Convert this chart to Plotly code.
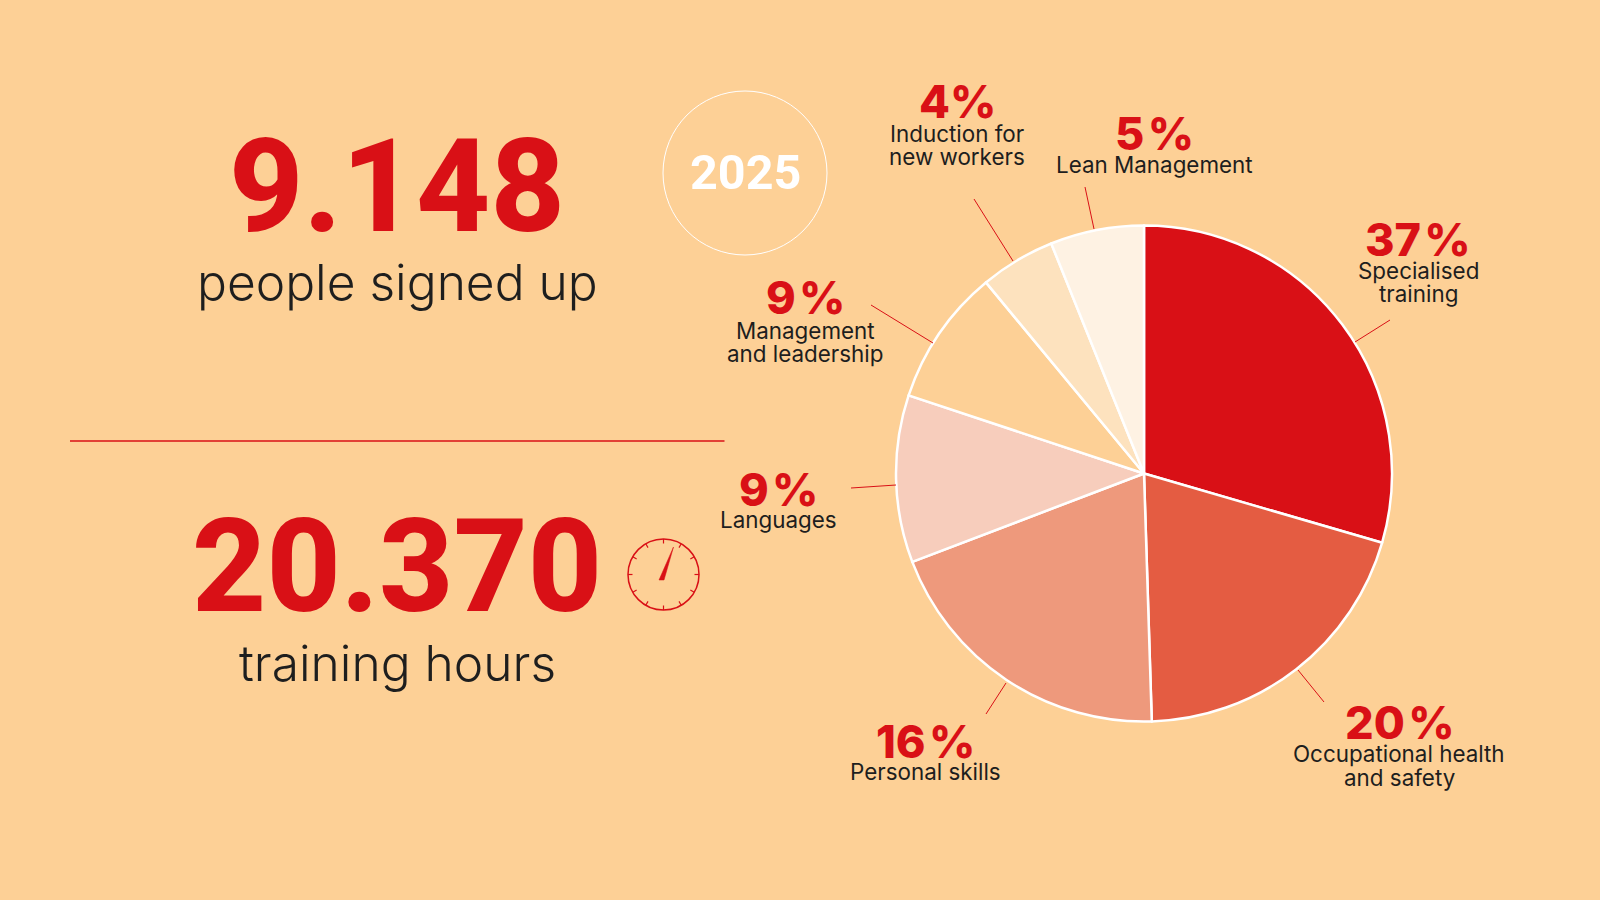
import math
import plotly.graph_objects as go

W, H = 1600, 900
BG = "#FDD096"
RED = "#D91016"
DARK = "#1E1E1E"
FONT = "Inter"
NUM_FONT = "Roboto"

# slice sizes as drawn (the printed percentages do not match the wedges)
slice_names = ["Specialised training", "Occupational health and safety", "Personal skills",
               "Languages", "Management and leadership", "Induction for new workers",
               "Lean Management"]
slice_values = [29.5, 20.0, 19.7, 10.9, 8.9, 4.9, 6.1]
slice_colors = ["#D91016", "#E45C42", "#EE997C", "#F7CDBC", "#FDD096", "#FDE2BE", "#FEF2E3"]

percent_labels = ["37\u200a%", "20\u200a%", "16\u200a%", "9\u200a%", "9\u200a%", "4%", "5\u200a%"]
label_lines = [["Specialised", "training"], ["Occupational health", "and safety"], ["Personal skills"],
               ["Languages"], ["Management", "and leadership"], ["Induction for", "new workers"],
               ["Lean Management"]]

# pixel positions of the label blocks: x, y of the percent, y of each text line
label_x = [1418, 1399, 925, 778, 805, 957, 1154]
percent_y = [239, 722, 741, 489, 297, 101, 134]
line_y = [[270, 293], [753, 777], [771], [519], [330, 353], [133, 156], [164]]

# leader lines x0, y0, x1, y1
leaders = [(1355, 342, 1390, 320), (1298, 670, 1324, 702), (986, 714, 1006, 683),
           (851, 488, 896, 485), (871, 305, 933, 343), (974, 199, 1013, 261),
           (1085, 187, 1094, 229)]

big_stats = [("9.148", "people signed up", 397, 186, 282), ("20.370", "training hours", 397, 566, 663)]

PIE_CX, PIE_CY, PIE_R = 1144, 473.5, 248
CLOCK_CX, CLOCK_CY, CLOCK_R = 663.5, 574.5, 35.5


def px(x):
    return x / W


def py(y):
    return 1 - y / H


def text(s, x, y, size, color=DARK, weight=400, family=FONT):
    fig.add_annotation(text=s, x=px(x), y=py(y), xref="paper", yref="paper", showarrow=False,
                       xanchor="center", yanchor="middle",
                       font=dict(family=family, size=size, color=color, weight=weight))


def line(x0, y0, x1, y1, color=RED, width=1):
    fig.add_shape(type="line", xref="paper", yref="paper", x0=px(x0), y0=py(y0), x1=px(x1), y1=py(y1),
                  line=dict(color=color, width=width))


def circle(cx, cy, r, color, width):
    fig.add_shape(type="circle", xref="paper", yref="paper", x0=px(cx - r), x1=px(cx + r),
                  y0=py(cy - r), y1=py(cy + r), line=dict(color=color, width=width))


fig = go.Figure(go.Pie(
    labels=slice_names, values=slice_values, sort=False, direction="clockwise", rotation=0,
    textinfo="none", hoverinfo="label", showlegend=False,
    marker=dict(colors=slice_colors, line=dict(color="white", width=2.5)),
    domain=dict(x=[px(PIE_CX - PIE_R), px(PIE_CX + PIE_R)], y=[py(PIE_CY + PIE_R), py(PIE_CY - PIE_R)]),
))

# left side numbers
for number, caption, x, y_num, y_cap in big_stats:
    text(number, x, y_num, 129, RED, 800, NUM_FONT)
    text(caption, x, y_cap, 49.7, DARK, 300)
line(70, 441, 724.5, 441, RED, 1.5)

# 2025 badge
circle(745, 173, 82, "white", 1)
text("2025", 745, 173, 48.5, "white", 700, NUM_FONT)

# clock icon
circle(CLOCK_CX, CLOCK_CY, CLOCK_R, RED, 1.5)
for i in range(12):
    a = math.radians(i * 30)
    line(CLOCK_CX + CLOCK_R * math.sin(a), CLOCK_CY - CLOCK_R * math.cos(a),
         CLOCK_CX + (CLOCK_R - 4.5) * math.sin(a), CLOCK_CY - (CLOCK_R - 4.5) * math.cos(a), RED, 1.2)
fig.add_shape(type="path", xref="paper", yref="paper", fillcolor=RED, line=dict(color=RED, width=0.5),
              path="M {} {} L {} {} L {} {} Z".format(px(673.5), py(547), px(659), py(580), px(664), py(580)))

# pie labels
for i, pct in enumerate(percent_labels):
    text(pct, label_x[i], percent_y[i], 45, RED, 800, FONT)
    for s, y in zip(label_lines[i], line_y[i]):
        text(s, label_x[i], y, 22.4, DARK, 400)
    x0, y0, x1, y1 = leaders[i]
    line(x0, y0, x1, y1, RED, 1)

fig.update_layout(width=W, height=H, paper_bgcolor=BG, plot_bgcolor=BG,
                  margin=dict(l=0, r=0, t=0, b=0),
                  xaxis=dict(visible=False), yaxis=dict(visible=False))

fig.write_html("out.html", config=dict(displayModeBar=False),
               post_script="document.body.style.margin='0';document.body.style.overflow='hidden';"
                           "document.body.style.background='" + BG + "';")
